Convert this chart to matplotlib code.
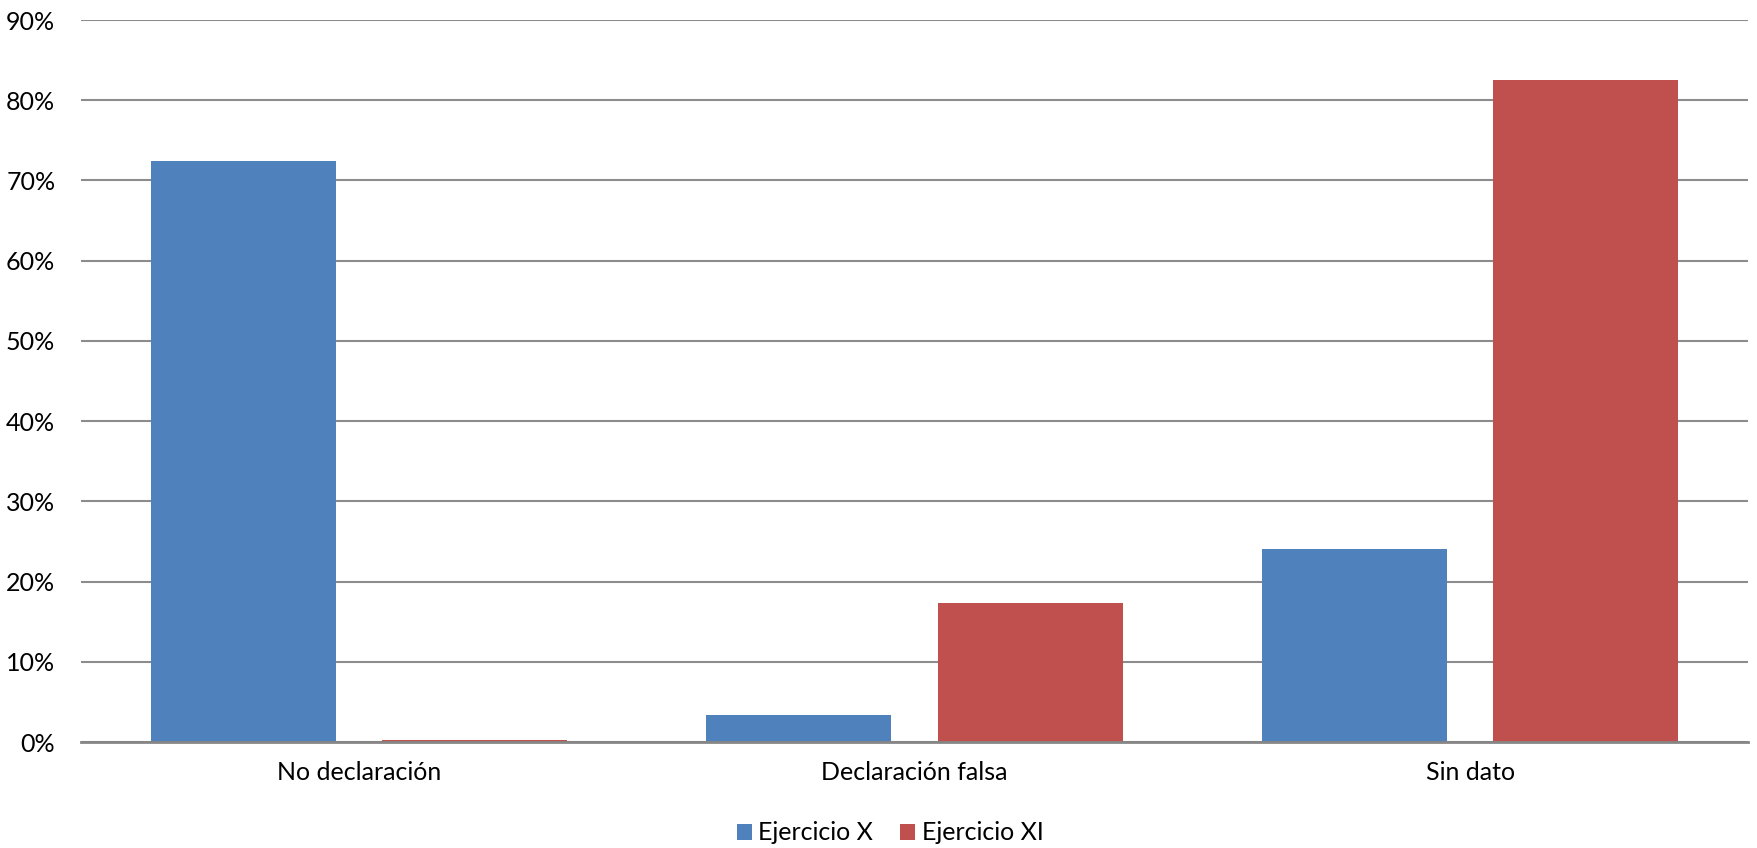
import matplotlib
matplotlib.use("Agg")
import matplotlib.pyplot as plt
import numpy as np

categories = ["No declaración", "Declaración falsa", "Sin dato"]
series_names = ["Ejercicio X", "Ejercicio XI"]
ejercicio_x = [72.4, 3.4, 24.1]
ejercicio_xi = [0.25, 17.3, 82.5]
yticks = [0, 10, 20, 30, 40, 50, 60, 70, 80, 90]
colors = ["#4F81BD", "#C0504D"]

plt.rcParams['font.family'] = ['Lato', 'DejaVu Sans']

fig = plt.figure(figsize=(17.58, 8.48), dpi=100)
ax = fig.add_axes([81/1758, 1-742/848, (1748-81)/1758, (742-20)/848])

x = np.arange(len(categories))
w = 0.333
off = 0.208
ax.bar(x - off, ejercicio_x, width=w, color=colors[0], label=series_names[0], zorder=3)
ax.bar(x + off, ejercicio_xi, width=w, color=colors[1], label=series_names[1], zorder=3)

ax.set_xlim(-0.5, 2.5)
ax.set_ylim(0, 90)
ax.set_yticks(yticks)
ax.set_yticklabels([f"{t}%" for t in yticks], fontsize=18)
ax.set_xticks(x)
ax.set_xticklabels(categories, fontsize=18)
ax.tick_params(axis='both', length=0)
ax.tick_params(axis='y', pad=18.5)
ax.tick_params(axis='x', pad=14)
ax.grid(axis='y', color='#8c8c8c', linewidth=1.5, zorder=0)
for s in ['left', 'right', 'top']:
    ax.spines[s].set_visible(False)
ax.spines['bottom'].set_color('#868686')
ax.spines['bottom'].set_linewidth(2)
ax.spines['bottom'].set_zorder(4)

leg = fig.legend(loc='center', bbox_to_anchor=(890/1758, 1-833/848), ncol=2, frameon=False,
                 fontsize=18, handlelength=0.6, handleheight=0.6, handletextpad=0.25,
                 columnspacing=1.1)

fig.savefig("out.png", dpi=100)
